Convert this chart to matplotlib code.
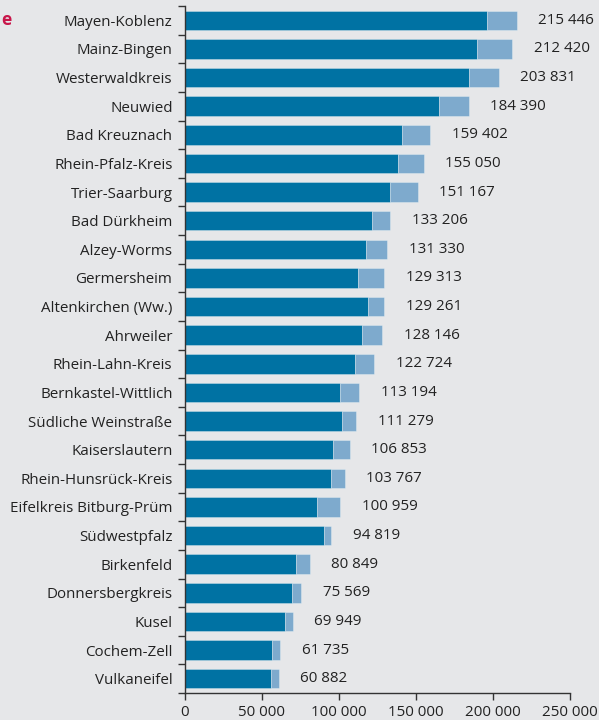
import matplotlib
matplotlib.use("Agg")
import matplotlib.pyplot as plt
import numpy as np

districts = ["Mayen-Koblenz", "Mainz-Bingen", "Westerwaldkreis", "Neuwied", "Bad Kreuznach",
             "Rhein-Pfalz-Kreis", "Trier-Saarburg", "Bad Dürkheim", "Alzey-Worms", "Germersheim",
             "Altenkirchen (Ww.)", "Ahrweiler", "Rhein-Lahn-Kreis", "Bernkastel-Wittlich",
             "Südliche Weinstraße", "Kaiserslautern", "Rhein-Hunsrück-Kreis",
             "Eifelkreis Bitburg-Prüm", "Südwestpfalz", "Birkenfeld", "Donnersbergkreis",
             "Kusel", "Cochem-Zell", "Vulkaneifel"]
totals = [215446, 212420, 203831, 184390, 159402, 155050, 151167, 133206, 131330, 129313,
          129261, 128146, 122724, 113194, 111279, 106853, 103767, 100959, 94819, 80849,
          75569, 69949, 61735, 60882]
dark_part = [196000, 189600, 184400, 165000, 141000, 138000, 133000, 121400, 117700, 112500,
             119000, 115000, 110400, 100600, 102000, 96000, 94800, 85600, 90300, 72000,
             69500, 65000, 56500, 55800]
xticks = [0, 50000, 100000, 150000, 200000, 250000]

dark = "#0072a3"
light = "#7eaacd"
bg = "#e6e7e9"
txt = "#222222"

plt.rcParams['font.family'] = ['Open Sans', 'DejaVu Sans']

fig = plt.figure(figsize=(5.99, 7.2), dpi=100, facecolor=bg)
ax = fig.add_axes([185/599, 27/720, 385/599, 687/720], facecolor=bg)

y = np.arange(len(districts))
rest = [t - d for t, d in zip(totals, dark_part)]
ax.barh(y, dark_part, height=0.68, color=dark, edgecolor=(1, 1, 1, 0.35), linewidth=0.6)
ax.barh(y, rest, left=dark_part, height=0.68, color=light, edgecolor=(1, 1, 1, 0.35), linewidth=0.6)

for yi, t in zip(y, totals):
    lab = f"{t:,}".replace(",", " ")
    ax.annotate(lab, xy=(t, yi), xytext=(15.5, 0), textcoords="offset points",
                va="center", ha="left", fontsize=10.9, color=txt)

ax.set_ylim(len(districts) - 0.5, -0.5)
ax.set_xlim(0, 250000)
ax.set_yticks(y)
ax.set_yticklabels(districts, fontsize=10.9, color=txt)
ax.set_yticks(np.arange(-0.5, len(districts) + 0.5, 1), minor=True)
ax.tick_params(axis="y", which="major", length=0, pad=9)
ax.tick_params(axis="y", which="minor", length=5, width=1, color="#333333", direction="out")
ax.set_xticks(xticks)
ax.set_xticklabels([f"{v:,}".replace(",", " ") for v in xticks], fontsize=10.9, color=txt)
ax.tick_params(axis="x", length=5, width=1, color="#333333", direction="out", pad=4)

for s in ["top", "right"]:
    ax.spines[s].set_visible(False)
for s in ["left", "bottom"]:
    ax.spines[s].set_color("#333333")
    ax.spines[s].set_linewidth(1)

fig.text(1/599, 1 - 20/720, "e", color="#c8164a", fontsize=12.5, fontweight="bold",
         va="center", ha="left")

fig.savefig("out.png", dpi=100, facecolor=bg)
